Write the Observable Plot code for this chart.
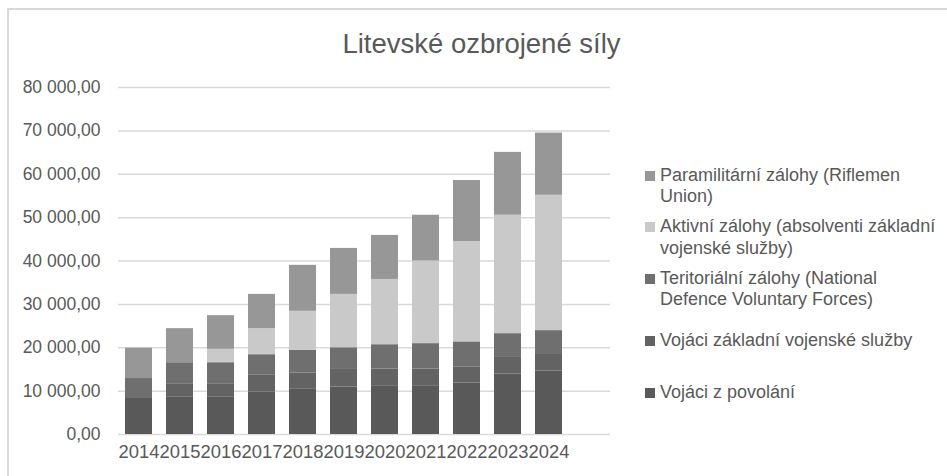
<!DOCTYPE html>
<html>
<head>
<meta charset="utf-8">
<script src="https://cdn.jsdelivr.net/npm/d3@7"></script>
<script src="https://cdn.jsdelivr.net/npm/@observablehq/plot@0.6"></script>
<style>
  html, body { margin: 0; padding: 0; background: #fff; }
  #wrap { position: relative; width: 947px; height: 476px; overflow: hidden; font-family: "Liberation Sans", Arial, sans-serif; color: #595959; }
  #frame { position: absolute; left: 7px; top: 8px; width: 960px; height: 480px; border-left: 2px solid #d9d9d9; border-top: 2px solid #d9d9d9; }
  #title { position: absolute; left: 0; width: 963px; top: 28px; text-align: center; font-size: 27.5px; line-height: 32px; color: #595959; }
  #chart { position: absolute; left: 0; top: 0; }
  #legend { position: absolute; left: 645px; top: 160.5px; width: 300px; }
  .item { height: 51.5px; display: flex; align-items: center; }
  .item .row { display: flex; align-items: flex-start; }
  .sw { width: 10px; height: 10px; flex: none; margin-top: 6px; margin-right: 5px; }
  .lab { font-size: 18px; line-height: 21.5px; max-width: 280px; }
</style>
</head>
<body>
<div id="wrap">
  <div id="frame"></div>
  <div id="chart"></div>
  <div id="title"></div>
  <div id="legend"></div>
</div>
<script>
// ---- data ----
const title = "Litevské ozbrojené síly";
const years = [2014, 2015, 2016, 2017, 2018, 2019, 2020, 2021, 2022, 2023, 2024];
const seriesNames = [
  "Vojáci z povolání",
  "Vojáci základní vojenské služby",
  "Teritoriální zálohy (National Defence Voluntary Forces)",
  "Aktivní zálohy (absolventi základní vojenské služby)",
  "Paramilitární zálohy (Riflemen Union)"
];
const professional  = [8500, 8700, 8700, 9800, 10550, 10950, 11250, 11250, 11850, 13950, 14650];
const conscripts    = [0, 3000, 3000, 3850, 3600, 4050, 3850, 3850, 3750, 4000, 4000];
const territorial   = [4400, 4850, 4850, 4750, 5250, 5000, 5600, 5850, 5750, 5300, 5300];
const activeReserve = [0, 0, 3100, 6000, 9000, 12300, 15050, 19050, 23150, 27300, 31200];
const paramilitary  = [7000, 7850, 7750, 7900, 10600, 10600, 10150, 10550, 14050, 14500, 14350];
const yTicks = [0, 10000, 20000, 30000, 40000, 50000, 60000, 70000, 80000];
const colors = ["#595959", "#636363", "#6f6f6f", "#c9c9c9", "#979797"];

// ---- build table ----
const seriesValues = [professional, conscripts, territorial, activeReserve, paramilitary];
const rows = years.flatMap((yr, i) =>
  seriesNames.map((name, k) => ({ year: String(yr), series: name, value: seriesValues[k][i] })));

const locale = d3.formatLocale({ decimal: ",", thousands: "\u00a0", grouping: [3], currency: ["", ""] });
const fmt = locale.format(",.2f");

document.getElementById("title").textContent = title;

const chart = Plot.plot({
  width: 947,
  height: 476,
  marginLeft: 118,
  marginRight: 337,
  marginTop: 87,
  marginBottom: 42,
  style: { fontFamily: "'Liberation Sans', Arial, sans-serif", color: "#595959", background: "transparent", overflow: "visible" },
  x: { domain: years.map(String), range: [118, 569], paddingInner: 0.34, paddingOuter: 0.17 },
  y: { domain: [0, 80000] },
  color: { domain: seriesNames, range: colors },
  marks: [
    Plot.ruleY(yTicks, { stroke: "#d9d9d9", strokeWidth: 1.5 }),
    Plot.barY(rows, { x: "year", y: "value", fill: "series", order: seriesNames }),
    Plot.axisY({ ticks: yTicks, tickFormat: fmt, tickSize: 0, tickPadding: 18, fontSize: 17.5, label: null, fill: "#595959" }),
    Plot.axisX({ tickSize: 0, tickPadding: 10, fontSize: 18.4, label: null, fill: "#595959" })
  ]
});
document.getElementById("chart").appendChild(chart);

// legend (top to bottom, reverse of stack order)
const legend = document.getElementById("legend");
[...seriesNames].reverse().forEach((name) => {
  const i = seriesNames.indexOf(name);
  const item = document.createElement("div");
  item.className = "item";
  item.innerHTML = `<div class="row"><div class="sw" style="background:${colors[i]}"></div><div class="lab"></div></div>`;
  item.querySelector(".lab").textContent = name;
  legend.appendChild(item);
});
</script>
</body>
</html>
